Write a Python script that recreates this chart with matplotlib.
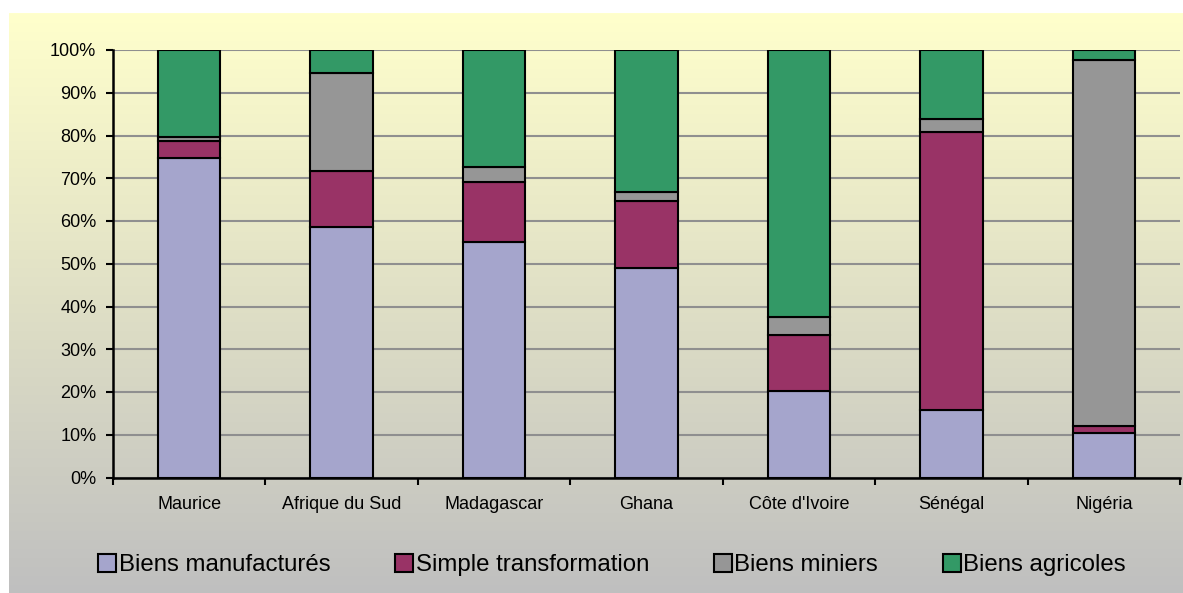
import numpy as np
import matplotlib
matplotlib.use("Agg")
import matplotlib.pyplot as plt
from matplotlib.ticker import FixedLocator, FuncFormatter

plt.rcParams['font.family'] = ['Liberation Sans', 'DejaVu Sans']

countries = ["Maurice", "Afrique du Sud", "Madagascar", "Ghana", "Côte d'Ivoire", "Sénégal", "Nigéria"]
series_names = ["Biens manufacturés", "Simple transformation", "Biens miniers", "Biens agricoles"]
manufactures = [74.8, 58.6, 55.2, 49.1, 20.2, 15.9, 10.3]
simple_transfo = [4.0, 13.0, 14.0, 15.5, 13.1, 65.0, 1.7]
miniers = [0.8, 23.0, 3.4, 2.3, 4.2, 3.0, 85.7]
agricoles = [20.4, 5.4, 27.4, 33.1, 62.5, 16.1, 2.3]
colors = ["#A5A5CC", "#993366", "#969696", "#339966"]

W, H = 1183, 593
fig = plt.figure(figsize=(W / 100, H / 100), dpi=100)
fig.patch.set_facecolor("white")

# gradient background panel
bg = fig.add_axes([9 / W, 0, 1 - 9 / W, (H - 13) / H], zorder=0)
top = np.array([1.0, 1.0, 0.80])
bot = np.array([0.75, 0.75, 0.75])
t = np.linspace(0, 1, 256)[:, None]
grad = top * (1 - t) + bot * t
grad = np.repeat(grad[:, None, :], 2, axis=1)
bg.imshow(grad, aspect="auto", extent=[0, 1, 0, 1])
bg.set_axis_off()

ax = fig.add_axes([113 / W, (H - 477.5) / H, (1180 - 113) / W, (477.5 - 50) / H], zorder=1)
ax.patch.set_alpha(0)

data = [manufactures, simple_transfo, miniers, agricoles]
x = np.arange(len(countries))
bottom = np.zeros(len(countries))
handles = []
for vals, name, col in zip(data, series_names, colors):
    v = np.array(vals) / 100.0
    b = ax.bar(x, v, width=0.41, bottom=bottom, color=col, edgecolor="black",
               linewidth=1.5, label=name, zorder=3)
    handles.append(b)
    bottom = bottom + v

ax.set_xlim(-0.5, len(countries) - 0.5)
ax.set_ylim(0, 1)
ax.yaxis.set_major_locator(FixedLocator(np.arange(0, 1.01, 0.1)))
ax.yaxis.set_major_formatter(FuncFormatter(lambda v, p: f"{int(round(v * 100))}%"))
ax.grid(axis="y", color="#8F8F8F", linewidth=1.5, zorder=1)
ax.set_axisbelow(True)

ax.set_xticks(x)
ax.set_xticklabels(countries)
ax.set_xticks(np.arange(-0.5, len(countries)), minor=True)
ax.tick_params(axis="x", which="major", length=0, pad=13, labelsize=13)
ax.tick_params(axis="x", which="minor", length=5, width=1.5, direction="out")
ax.tick_params(axis="y", length=5, width=1.5, direction="out", pad=7, labelsize=13)

for s in ["top", "right"]:
    ax.spines[s].set_visible(False)
for s in ["left", "bottom"]:
    ax.spines[s].set_linewidth(1.8)
    ax.spines[s].set_color("black")

leg = fig.legend(handles=handles, labels=series_names, loc="center",
                 bbox_to_anchor=(612 / W, (H - 565) / H), ncol=4, frameon=False,
                 fontsize=17.3, handlelength=0.75, handleheight=0.75,
                 handletextpad=0.1, columnspacing=2.7)

fig.savefig("out.png", dpi=100)
